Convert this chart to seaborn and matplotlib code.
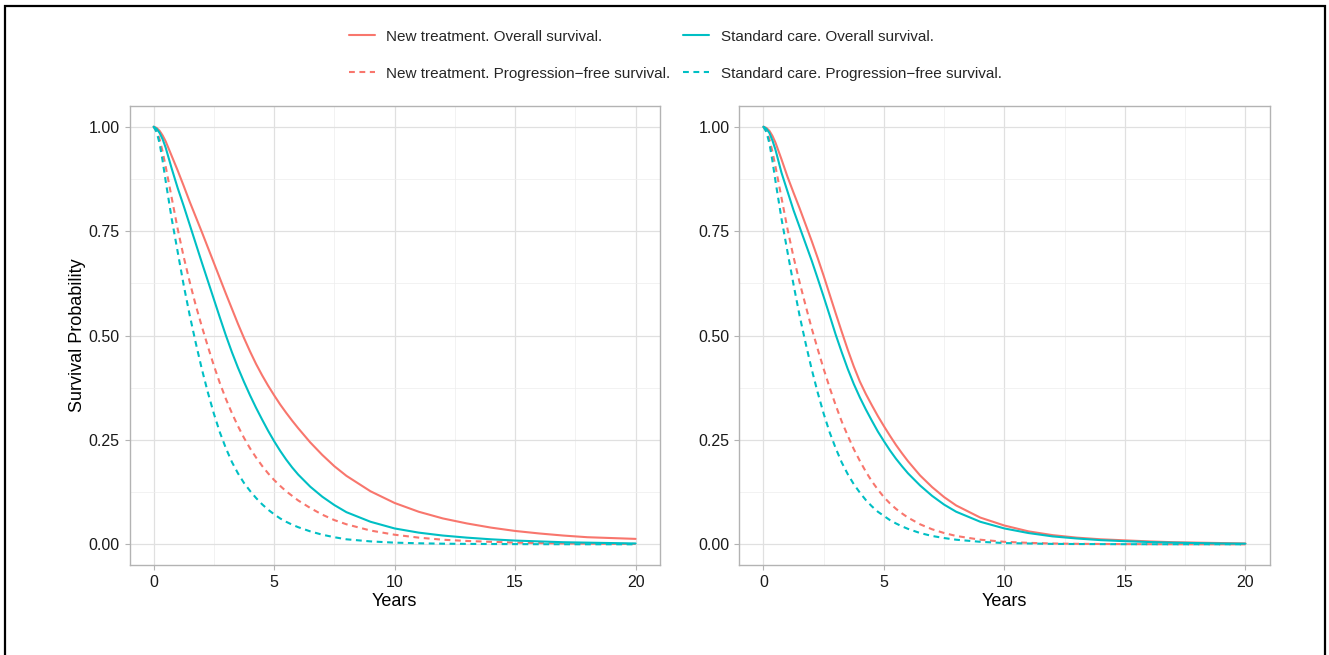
import numpy as np
import pandas as pd
import matplotlib
matplotlib.use("Agg")
import matplotlib.pyplot as plt
import seaborn as sns
from matplotlib.lines import Line2D
from matplotlib.patches import Rectangle
from matplotlib.ticker import MultipleLocator

# ---------------- data ----------------
years = [0, 0.125, 0.25, 0.375, 0.5, 0.75, 1, 1.25, 1.5, 1.75, 2, 2.25, 2.5, 2.75, 3, 3.25, 3.5, 3.75,
         4, 4.25, 4.5, 4.75, 5, 5.25, 5.5, 5.75, 6, 6.5, 7, 7.5, 8,
         9, 10, 11, 12, 13, 14, 15, 16, 17, 18, 19, 20]

# left panel
left_new_os = [1, 0.997, 0.99, 0.979, 0.965, 0.93, 0.895, 0.858, 0.82, 0.784, 0.748, 0.711, 0.674, 0.637, 0.60, 0.564, 0.528, 0.494,
               0.462, 0.432, 0.405, 0.38, 0.357, 0.335, 0.315, 0.296, 0.278, 0.244, 0.214, 0.187, 0.164,
               0.127, 0.099, 0.078, 0.062, 0.05, 0.04, 0.032, 0.026, 0.021, 0.017, 0.015, 0.013]
left_std_os = [1, 0.995, 0.985, 0.97, 0.95, 0.90, 0.853, 0.81, 0.765, 0.72, 0.675, 0.631, 0.587, 0.543, 0.50, 0.46, 0.423, 0.389,
               0.357, 0.327, 0.299, 0.272, 0.247, 0.224, 0.203, 0.184, 0.167, 0.138, 0.114, 0.094, 0.077,
               0.054, 0.038, 0.028, 0.021, 0.016, 0.012, 0.009, 0.007, 0.005, 0.004, 0.003, 0.002]
left_new_pfs = [1, 0.99, 0.97, 0.94, 0.905, 0.83, 0.755, 0.688, 0.628, 0.572, 0.522, 0.474, 0.428, 0.386, 0.348, 0.314, 0.283, 0.255,
                0.23, 0.208, 0.188, 0.17, 0.154, 0.14, 0.127, 0.116, 0.105, 0.087, 0.071, 0.058, 0.048,
                0.033, 0.023, 0.016, 0.011, 0.008, 0.006, 0.004, 0.003, 0.002, 0.0015, 0.001, 0.001]
left_std_pfs = [1, 0.987, 0.96, 0.918, 0.87, 0.78, 0.70, 0.62, 0.548, 0.482, 0.42, 0.364, 0.313, 0.268, 0.23, 0.197, 0.17, 0.147,
                0.128, 0.111, 0.096, 0.083, 0.072, 0.062, 0.054, 0.047, 0.041, 0.031, 0.023, 0.017, 0.012,
                0.007, 0.004, 0.0025, 0.0015, 0.001, 0.0007, 0.0005, 0.0003, 0.0002, 0.0001, 0.0001, 0.0]

# right panel
right_new_os = [1, 0.997, 0.99, 0.978, 0.962, 0.922, 0.88, 0.842, 0.805, 0.766, 0.727, 0.686, 0.643, 0.598, 0.553, 0.509, 0.466, 0.426,
                0.39, 0.36, 0.333, 0.307, 0.283, 0.26, 0.238, 0.218, 0.199, 0.165, 0.137, 0.113, 0.093,
                0.064, 0.045, 0.031, 0.022, 0.016, 0.012, 0.0095, 0.007, 0.005, 0.004, 0.003, 0.002]
right_std_os = [1, 0.995, 0.985, 0.967, 0.945, 0.89, 0.845, 0.80, 0.76, 0.72, 0.68, 0.637, 0.593, 0.548, 0.502, 0.46, 0.42, 0.384,
                0.352, 0.323, 0.296, 0.27, 0.247, 0.225, 0.205, 0.187, 0.17, 0.141, 0.116, 0.095, 0.078,
                0.054, 0.038, 0.027, 0.019, 0.014, 0.01, 0.0075, 0.0055, 0.004, 0.003, 0.002, 0.0015]
right_new_pfs = [1, 0.99, 0.97, 0.94, 0.905, 0.83, 0.755, 0.688, 0.628, 0.572, 0.518, 0.468, 0.42, 0.375, 0.333, 0.294, 0.26, 0.228,
                 0.2, 0.174, 0.151, 0.131, 0.113, 0.098, 0.085, 0.074, 0.064, 0.048, 0.036, 0.027, 0.02,
                 0.011, 0.006, 0.0035, 0.002, 0.0012, 0.0008, 0.0005, 0.0003, 0.0002, 0.0001, 0.0001, 0.0]
right_std_pfs = [1, 0.987, 0.96, 0.918, 0.87, 0.78, 0.70, 0.622, 0.548, 0.482, 0.42, 0.364, 0.313, 0.268, 0.23, 0.196, 0.168, 0.144,
                 0.124, 0.106, 0.091, 0.078, 0.068, 0.058, 0.05, 0.043, 0.037, 0.027, 0.02, 0.015, 0.011,
                 0.006, 0.003, 0.002, 0.001, 0.0007, 0.0005, 0.0003, 0.0002, 0.0001, 0.0001, 0.0, 0.0]

arms = ["New treatment", "Standard care"]
endpoints = ["Overall survival", "Progression-free survival"]
legend_labels = ["New treatment. Overall survival.",
                 "New treatment. Progression\u2212free survival.",
                 "Standard care. Overall survival.",
                 "Standard care. Progression\u2212free survival."]
x_ticks = [0, 5, 10, 15, 20]
y_ticks = [0.0, 0.25, 0.5, 0.75, 1.0]
y_tick_labels = ["0.00", "0.25", "0.50", "0.75", "1.00"]

panels = {
    "left": {("New treatment", "Overall survival"): left_new_os,
             ("Standard care", "Overall survival"): left_std_os,
             ("New treatment", "Progression-free survival"): left_new_pfs,
             ("Standard care", "Progression-free survival"): left_std_pfs},
    "right": {("New treatment", "Overall survival"): right_new_os,
              ("Standard care", "Overall survival"): right_std_os,
              ("New treatment", "Progression-free survival"): right_new_pfs,
              ("Standard care", "Progression-free survival"): right_std_pfs},
}

rows = []
for pname, series in panels.items():
    for (arm, ep), vals in series.items():
        for t, v in zip(years, vals):
            rows.append({"panel": pname, "Arm": arm, "Endpoint": ep, "Years": t, "Survival": v})
df = pd.DataFrame(rows)

# ---------------- style ----------------
sns.set_theme(style="white")
plt.rcParams["font.family"] = ["Liberation Sans", "DejaVu Sans"]

RED = "#F8766D"
TEAL = "#00BFC4"
palette = {"New treatment": RED, "Standard care": TEAL}
dash_pat = (2.8, 2.2)
dashes = {"Overall survival": "", "Progression-free survival": dash_pat}
LW = 1.5

W, H = 1329, 655
fig = plt.figure(figsize=(W / 100, H / 100), dpi=100)
fig.patch.set_facecolor("white")

ax_bottom = (H - 565.2) / H
ax_h = 459.4 / H
ax_w = 530.2 / W
ax1 = fig.add_axes([129.5 / W, ax_bottom, ax_w, ax_h])
ax2 = fig.add_axes([739.3 / W, ax_bottom, ax_w, ax_h])

for ax, pname in [(ax1, "left"), (ax2, "right")]:
    sub = df[df["panel"] == pname]
    sns.lineplot(data=sub, x="Years", y="Survival", hue="Arm", style="Endpoint",
                 hue_order=arms, style_order=endpoints, palette=palette,
                 dashes=dashes, linewidth=LW, legend=False, estimator=None,
                 sort=True, ax=ax)
    for ln in ax.get_lines():
        ln.set_solid_joinstyle("round")
        ln.set_dash_joinstyle("round")
    ax.set_xlim(-1, 21)
    ax.set_ylim(-0.05, 1.05)
    ax.set_xticks(x_ticks)
    ax.set_xticklabels([str(v) for v in x_ticks])
    ax.set_yticks(y_ticks)
    ax.set_yticklabels(y_tick_labels)
    ax.xaxis.set_minor_locator(MultipleLocator(2.5))
    ax.yaxis.set_minor_locator(MultipleLocator(0.125))
    ax.grid(which="major", color="#E0E0E0", linewidth=0.9)
    ax.grid(which="minor", color="#EDEDED", linewidth=0.5)
    ax.set_axisbelow(True)
    for sp in ax.spines.values():
        sp.set_color("#B3B3B3")
        sp.set_linewidth(1.0)
        sp.set_visible(True)
    ax.tick_params(which="major", length=3.5, width=0.8, color="#B3B3B3",
                   labelsize=11.5, labelcolor="#1A1A1A", pad=3.5,
                   bottom=True, left=True)
    ax.tick_params(which="minor", length=0)
    ax.set_xlabel("Years", fontsize=13, color="black", labelpad=2.5)
    ax.set_ylabel("")

ax1.set_ylabel("Survival Probability", fontsize=13, color="black", labelpad=2)

handles = [Line2D([], [], color=RED, lw=LW),
           Line2D([], [], color=RED, lw=LW, dashes=dash_pat),
           Line2D([], [], color=TEAL, lw=LW),
           Line2D([], [], color=TEAL, lw=LW, dashes=dash_pat)]
fig.legend(handles, legend_labels, loc="upper center", bbox_to_anchor=(0.508, 1 - 16 / H),
           ncol=2, frameon=False, fontsize=11, handlelength=1.7, handletextpad=0.75,
           columnspacing=0.85, labelspacing=1.5)

# outer black frame
fig.add_artist(Rectangle((5 / W, -0.05), (1325 - 5) / W, (H - 6) / H + 0.05,
                         transform=fig.transFigure, fill=False, edgecolor="black",
                         linewidth=1.6, clip_on=False))

fig.savefig("out.png", dpi=100, facecolor="white")
